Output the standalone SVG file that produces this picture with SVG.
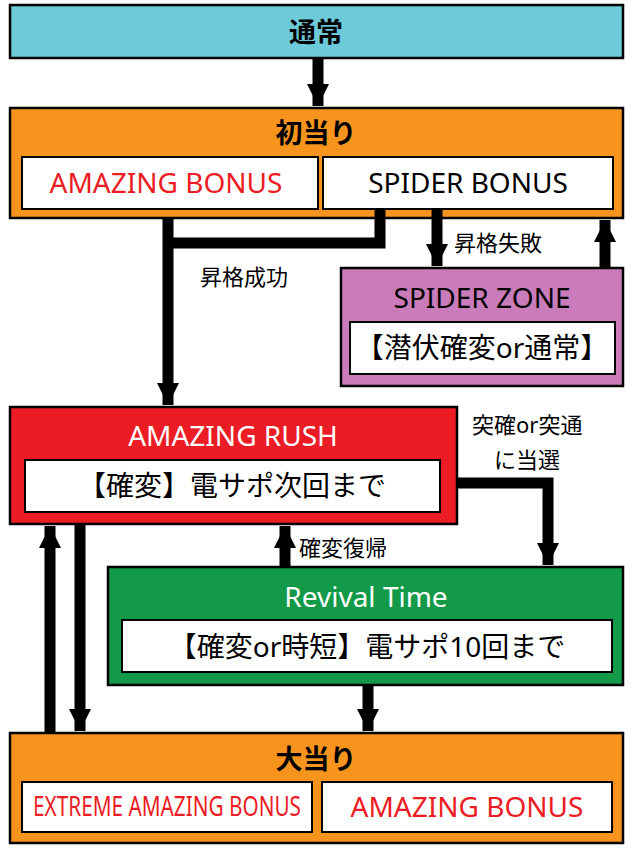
<svg xmlns="http://www.w3.org/2000/svg" width="633" height="850" viewBox="0 0 633 850">
<defs>
<style>
.box{stroke:#000;stroke-width:2.5}
.in{fill:#fff;stroke:#000;stroke-width:2}
text{font-family:"Noto Sans","Noto Sans CJK JP",sans-serif;text-anchor:middle}
.t{font-size:27px;font-weight:bold}
.s{font-size:28px}
.l{font-size:22px;text-anchor:start}
.ln{stroke:#000;stroke-width:11;fill:none}
</style>
<marker id="a" markerUnits="userSpaceOnUse" markerWidth="26" markerHeight="22" refX="26" refY="13" orient="auto" viewBox="0 0 26 26"><path d="M0,0 L26,13 L0,26 Z"/></marker>
</defs>
<g id="normal"><rect class="box" x="10" y="5" width="613" height="53" fill="#6ccad9"/><text class="t" x="316" y="42">通常</text></g>
<g id="first"><rect class="box" x="10" y="108" width="613" height="110" fill="#f7941d"/><text class="t" x="316" y="143">初当り</text>
<rect class="in" x="22" y="157" width="296" height="52"/><text class="s" x="166" y="193" fill="#ec1c24">AMAZING BONUS</text>
<rect class="in" x="323" y="157" width="290" height="52"/><text class="s" x="468" y="193">SPIDER BONUS</text></g>
<g id="spider"><rect class="box" x="341" y="268" width="282" height="118" fill="#c97cb9"/><text class="s" x="482" y="308">SPIDER ZONE</text>
<rect class="in" x="350" y="322" width="265" height="52"/><text class="s" x="482" y="358" font-size="27">【潜伏確変or通常】</text></g>
<g id="rush"><rect class="box" x="10" y="407" width="447" height="117" fill="#ec1c24"/><text class="s" x="233" y="446" fill="#fff">AMAZING RUSH</text>
<rect class="in" x="25" y="460" width="415" height="52"/><text class="s" x="232" y="496" font-size="30">【確変】電サポ次回まで</text></g>
<g id="revival"><rect class="box" x="108" y="567" width="515" height="118" fill="#129a48"/><text class="s" x="366" y="607" fill="#fff">Revival Time</text>
<rect class="in" x="122" y="620" width="490" height="52"/><text class="s" x="367" y="657" font-size="29">【確変or時短】電サポ10回まで</text></g>
<g id="big"><rect class="box" x="10" y="733" width="613" height="110" fill="#f7941d"/><text class="t" x="316" y="769">大当り</text>
<rect class="in" x="22" y="782" width="290" height="50"/><text class="s" x="167" y="816" fill="#ec1c24" font-size="23" textLength="268" lengthAdjust="spacingAndGlyphs">EXTREME AMAZING BONUS</text>
<rect class="in" x="322" y="782" width="290" height="50"/><text class="s" x="467" y="817" fill="#ec1c24">AMAZING BONUS</text></g>
<g id="connectors">
<line class="ln" x1="318" y1="58" x2="318" y2="106" marker-end="url(#a)"/>
<polyline class="ln" points="380,209 380,243 168,243"/>
<line class="ln" x1="168" y1="218" x2="168" y2="405" marker-end="url(#a)"/>
<line class="ln" x1="437" y1="209" x2="437" y2="266" marker-end="url(#a)"/>
<line class="ln" x1="605" y1="268" x2="605" y2="220" marker-end="url(#a)"/>
<polyline class="ln" points="457,483 548,483 548,565" marker-end="url(#a)"/>
<line class="ln" x1="285" y1="567" x2="285" y2="526" marker-end="url(#a)"/>
<line class="ln" x1="368" y1="685" x2="368" y2="731" marker-end="url(#a)"/>
<line class="ln" x1="50" y1="733" x2="50" y2="526" marker-end="url(#a)"/>
<line class="ln" x1="80" y1="524" x2="80" y2="731" marker-end="url(#a)"/>
<text class="l" x="454" y="251">昇格失敗</text>
<text class="l" x="200" y="285">昇格成功</text>
<text class="l" x="472" y="433">突確or突通</text>
<text class="l" x="494" y="468">に当選</text>
<text class="l" x="299" y="556">確変復帰</text>
</g>
</svg>
